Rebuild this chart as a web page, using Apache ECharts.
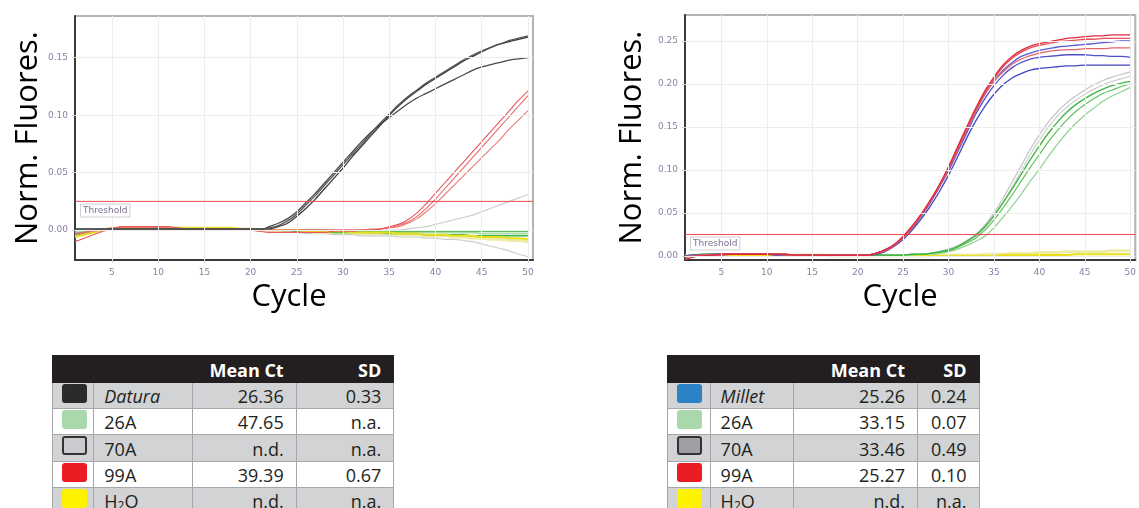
<!DOCTYPE html>
<html><head><meta charset="utf-8">
<script src="https://cdn.jsdelivr.net/npm/echarts@6/dist/echarts.min.js"></script>
<style>
html,body{margin:0;padding:0;background:#fff;width:1139px;height:508px;overflow:hidden;position:relative;font-family:'Open Sans',sans-serif;}
#chart{position:absolute;left:0;top:0;width:1139px;height:340px;}
table.ct{position:absolute;border-collapse:collapse;table-layout:fixed;font-family:'Open Sans',sans-serif;font-size:18px;color:#231f20;}
table.ct td{border:1.5px solid #a5a7aa;padding:0 12px 0 10px;height:26.3px;line-height:24px;white-space:nowrap;overflow:hidden;box-sizing:border-box;vertical-align:bottom;}
table.ct tr.hd td{background:#231f20;color:#fff;font-weight:bold;border-color:#231f20;height:26.7px;}
table.ct tr.g td{background:#d1d3d4;}
table.ct tr.w td{background:#fff;}
table.ct td.num{text-align:right;}
table.ct td.sw{padding:0;vertical-align:top;}
table.ct sub{font-size:12px;line-height:0;vertical-align:-2px;}
.swatch{width:25px;height:19px;border-radius:3px;margin:1px 0 0 9px;box-sizing:border-box;}
</style></head>
<body>
<div id="chart"></div>
<div id="tables"></div>
<script>
// ---------- data ----------
const cycles = [1,2,3,4,5,6,7,8,9,10,11,12,13,14,15,16,17,18,19,20,21,22,23,24,25,26,27,28,29,30,31,32,33,34,35,36,37,38,39,40,41,42,43,44,45,46,47,48,49,50];
const xTicks = [5,10,15,20,25,30,35,40,45,50];
const yTicksLeft = [0,0.05,0.10,0.15];
const yTicksRight = [0,0.05,0.10,0.15,0.20,0.25];
const threshold = 0.025;

// Left panel (Datura assay)
const daturaA = [0.001,0.001,0.001,0.001,0.001,0.001,0.001,0.001,0.001,0.001, 0.001,0.001,0.001,0.001,0.001,0.001,0.001,0.001,0.001,0.001, 0.001,0.002,0.004,0.008,0.014,0.022,0.030,0.039,0.048,0.057, 0.066,0.075,0.084,0.093,0.101,0.109,0.116,0.122,0.128,0.133, 0.138,0.143,0.148,0.152,0.156,0.159,0.162,0.165,0.167,0.169];
const daturaB = [0.001,0.001,0.001,0.001,0.001,0.001,0.001,0.001,0.001,0.001, 0.001,0.001,0.001,0.001,0.001,0.001,0.001,0.001,0.001,0.001, 0.001,0.001,0.003,0.006,0.012,0.019,0.027,0.036,0.045,0.054, 0.064,0.073,0.082,0.091,0.100,0.108,0.115,0.121,0.127,0.132, 0.137,0.142,0.147,0.151,0.155,0.159,0.162,0.164,0.166,0.168];
const daturaC = [0.000,0.000,0.000,0.000,0.000,0.000,0.000,0.000,0.000,0.000, 0.000,0.000,0.000,0.000,0.000,0.000,0.000,0.000,0.000,0.000, 0.000,0.003,0.006,0.010,0.016,0.024,0.032,0.041,0.050,0.059, 0.068,0.077,0.085,0.092,0.098,0.104,0.110,0.115,0.119,0.123, 0.127,0.131,0.135,0.139,0.142,0.144,0.146,0.148,0.149,0.150];
const l99A_1 = [-0.010,-0.007,-0.004,-0.001,0.001,0.003,0.003,0.003,0.003,0.003, 0.003,0.002,0.001,0.000,0.000,0.000,0.000,0.000,0.000,0.000, -0.001,-0.002,-0.002,-0.002,-0.002,-0.002,-0.002,-0.002,-0.001,-0.001, -0.001,0.000,0.000,0.001,0.003,0.005,0.009,0.015,0.023,0.032, 0.041,0.050,0.059,0.068,0.077,0.086,0.095,0.104,0.113,0.121];
const l99A_2 = [-0.004,-0.002,0.000,0.001,0.002,0.002,0.002,0.002,0.002,0.002, 0.002,0.002,0.001,0.001,0.001,0.001,0.001,0.001,0.001,0.001, 0.000,0.000,0.000,0.000,0.000,0.000,0.000,0.000,0.000,0.000, 0.000,0.000,0.001,0.001,0.002,0.004,0.007,0.012,0.019,0.027, 0.036,0.045,0.054,0.063,0.072,0.081,0.090,0.099,0.108,0.117];
const l99A_3 = [-0.003,-0.002,-0.001,0.000,0.001,0.001,0.001,0.001,0.001,0.001, 0.001,0.001,0.001,0.001,0.001,0.001,0.001,0.001,0.001,0.001, 0.000,0.000,0.000,0.000,0.000,0.000,0.000,0.000,0.000,0.000, 0.000,0.000,0.000,0.001,0.002,0.003,0.006,0.010,0.016,0.023, 0.031,0.039,0.047,0.055,0.063,0.071,0.079,0.088,0.096,0.104];
const l70A_1 = [0.000,0.000,0.000,0.000,0.000,0.000,0.000,0.000,0.000,0.000, 0.000,0.000,0.000,0.000,0.000,0.000,0.000,0.000,0.000,0.000, 0.000,0.000,0.000,0.000,0.000,0.000,0.000,0.000,0.000,0.000, 0.000,0.000,0.000,0.000,0.000,0.000,0.001,0.002,0.003,0.005, 0.007,0.009,0.011,0.013,0.016,0.019,0.022,0.025,0.028,0.031];
const l70A_2 = [0.000,0.000,0.000,0.000,0.000,0.000,0.000,0.000,0.000,0.000, 0.000,0.000,0.000,0.000,0.000,0.000,0.000,0.000,0.000,0.000, -0.001,-0.001,-0.002,-0.002,-0.002,-0.003,-0.003,-0.003,-0.004,-0.004, -0.004,-0.005,-0.005,-0.005,-0.005,-0.006,-0.006,-0.006,-0.007,-0.007, -0.008,-0.008,-0.009,-0.010,-0.012,-0.014,-0.016,-0.018,-0.021,-0.023];
const l26A_1 = [-0.004,-0.003,-0.001,0.000,0.001,0.002,0.002,0.002,0.002,0.002, 0.002,0.002,0.001,0.001,0.001,0.001,0.001,0.001,0.001,0.001, 0.000,0.000,0.000,0.000,0.000,0.000,0.000,0.000,-0.001,-0.001, -0.001,-0.001,-0.001,-0.001,-0.001,-0.001,-0.001,-0.001,-0.001,-0.001, -0.001,-0.001,-0.001,-0.001,-0.001,-0.001,-0.001,-0.001,-0.001,-0.001];
const l26A_2 = [-0.003,-0.002,-0.001,0.000,0.001,0.001,0.001,0.001,0.001,0.001, 0.001,0.001,0.001,0.001,0.001,0.001,0.001,0.001,0.001,0.001, 0.000,0.000,0.000,0.000,-0.001,-0.001,-0.001,-0.001,-0.002,-0.002, -0.002,-0.002,-0.002,-0.002,-0.003,-0.003,-0.003,-0.003,-0.004,-0.004, -0.004,-0.004,-0.004,-0.005,-0.005,-0.005,-0.005,-0.005,-0.005,-0.005];
const l26A_3 = [-0.002,-0.001,0.000,0.000,0.001,0.001,0.001,0.001,0.001,0.001, 0.001,0.001,0.001,0.001,0.001,0.001,0.001,0.001,0.001,0.001, 0.000,0.000,0.000,-0.001,-0.001,-0.001,-0.001,-0.001,-0.001,-0.001, -0.001,-0.001,-0.002,-0.002,-0.002,-0.002,-0.002,-0.002,-0.002,-0.002, -0.002,-0.002,-0.002,-0.002,-0.003,-0.003,-0.003,-0.003,-0.003,-0.003];
const lH2O_1 = [-0.006,-0.004,-0.002,0.000,0.001,0.002,0.002,0.002,0.002,0.002, 0.002,0.002,0.002,0.002,0.002,0.002,0.002,0.002,0.001,0.001, 0.001,0.000,0.000,0.000,0.000,-0.001,-0.001,-0.001,-0.001,-0.001, -0.002,-0.002,-0.002,-0.002,-0.002,-0.003,-0.003,-0.003,-0.004,-0.004, -0.004,-0.005,-0.005,-0.005,-0.006,-0.006,-0.006,-0.007,-0.007,-0.008];
const lH2O_2 = [-0.004,-0.003,-0.001,0.000,0.001,0.001,0.001,0.001,0.001,0.001, 0.001,0.001,0.001,0.001,0.001,0.001,0.001,0.001,0.001,0.001, 0.000,0.000,-0.001,-0.001,-0.001,-0.001,-0.002,-0.002,-0.002,-0.002, -0.002,-0.003,-0.003,-0.003,-0.003,-0.004,-0.004,-0.004,-0.005,-0.005, -0.005,-0.006,-0.006,-0.007,-0.007,-0.008,-0.008,-0.009,-0.009,-0.010];

// Right panel (Millet assay)
const r99A_1 = [-0.004,-0.001,0.000,0.001,0.002,0.002,0.002,0.002,0.002,0.002, 0.002,0.002,0.001,0.001,0.001,0.001,0.001,0.001,0.001,0.001, 0.001,0.003,0.007,0.013,0.023,0.035,0.049,0.065,0.083,0.104, 0.127,0.150,0.172,0.192,0.208,0.222,0.232,0.239,0.244,0.247, 0.249,0.251,0.253,0.254,0.255,0.256,0.256,0.257,0.257,0.257];
const r99A_2 = [-0.002,0.000,0.001,0.001,0.002,0.002,0.002,0.002,0.002,0.002, 0.002,0.002,0.001,0.001,0.001,0.001,0.001,0.001,0.001,0.001, 0.001,0.003,0.007,0.013,0.022,0.034,0.048,0.064,0.082,0.102, 0.125,0.148,0.170,0.190,0.206,0.220,0.230,0.237,0.242,0.245, 0.247,0.249,0.250,0.251,0.252,0.252,0.253,0.253,0.253,0.253];
const r99A_3 = [-0.001,0.000,0.001,0.001,0.001,0.002,0.002,0.002,0.002,0.002, 0.002,0.001,0.001,0.001,0.001,0.001,0.001,0.001,0.001,0.001, 0.001,0.003,0.006,0.012,0.021,0.033,0.047,0.063,0.081,0.101, 0.123,0.146,0.168,0.188,0.203,0.214,0.223,0.229,0.233,0.236, 0.238,0.239,0.240,0.240,0.241,0.241,0.241,0.242,0.242,0.242];
const millet1 = [0.000,0.001,0.001,0.002,0.002,0.002,0.002,0.002,0.002,0.002, 0.002,0.001,0.001,0.001,0.001,0.001,0.001,0.001,0.001,0.001, 0.001,0.003,0.007,0.013,0.022,0.034,0.048,0.064,0.082,0.102, 0.124,0.147,0.169,0.188,0.203,0.216,0.225,0.232,0.236,0.239, 0.241,0.243,0.244,0.245,0.246,0.247,0.248,0.249,0.250,0.250];
const millet2 = [0.000,0.001,0.001,0.001,0.002,0.002,0.002,0.002,0.002,0.002, 0.001,0.001,0.001,0.001,0.001,0.001,0.001,0.001,0.001,0.001, 0.001,0.003,0.006,0.012,0.021,0.032,0.046,0.062,0.080,0.099, 0.121,0.143,0.165,0.183,0.198,0.210,0.219,0.225,0.229,0.231, 0.232,0.233,0.234,0.234,0.234,0.233,0.233,0.232,0.232,0.231];
const millet3 = [0.000,0.001,0.001,0.001,0.001,0.002,0.002,0.002,0.002,0.002, 0.001,0.001,0.001,0.001,0.001,0.001,0.001,0.001,0.001,0.001, 0.001,0.002,0.005,0.011,0.019,0.030,0.043,0.058,0.075,0.094, 0.115,0.137,0.157,0.174,0.188,0.199,0.207,0.212,0.216,0.218, 0.219,0.220,0.221,0.221,0.222,0.222,0.222,0.222,0.222,0.222];
const r70A_1 = [0.000,0.001,0.002,0.002,0.002,0.002,0.002,0.002,0.002,0.002, 0.002,0.002,0.001,0.001,0.001,0.001,0.001,0.001,0.001,0.001, 0.001,0.001,0.001,0.001,0.001,0.002,0.002,0.003,0.005,0.008, 0.012,0.018,0.025,0.036,0.050,0.067,0.086,0.105,0.124,0.141, 0.156,0.168,0.178,0.186,0.193,0.199,0.204,0.208,0.211,0.214];
const r70A_2 = [0.000,0.001,0.002,0.002,0.002,0.002,0.002,0.002,0.002,0.002, 0.002,0.002,0.001,0.001,0.001,0.001,0.001,0.001,0.001,0.001, 0.001,0.001,0.001,0.001,0.001,0.002,0.002,0.003,0.004,0.007, 0.011,0.016,0.023,0.033,0.046,0.062,0.080,0.099,0.118,0.135, 0.150,0.163,0.173,0.181,0.188,0.194,0.199,0.203,0.206,0.209];
const r26A_1 = [-0.001,0.001,0.002,0.002,0.002,0.002,0.002,0.002,0.002,0.002, 0.002,0.002,0.001,0.001,0.001,0.001,0.001,0.001,0.001,0.001, 0.001,0.001,0.001,0.001,0.001,0.002,0.002,0.003,0.005,0.007, 0.011,0.017,0.024,0.034,0.047,0.062,0.078,0.095,0.112,0.128, 0.143,0.156,0.167,0.176,0.183,0.189,0.194,0.198,0.201,0.203];
const r26A_2 = [-0.001,0.001,0.002,0.002,0.002,0.002,0.002,0.002,0.002,0.002, 0.002,0.002,0.001,0.001,0.001,0.001,0.001,0.001,0.001,0.001, 0.001,0.001,0.001,0.001,0.001,0.002,0.002,0.003,0.004,0.006, 0.010,0.015,0.021,0.030,0.042,0.056,0.071,0.087,0.103,0.118, 0.133,0.146,0.158,0.168,0.176,0.183,0.189,0.193,0.197,0.200];
const r26A_3 = [0.000,0.001,0.002,0.002,0.002,0.002,0.002,0.002,0.002,0.002, 0.002,0.002,0.001,0.001,0.001,0.001,0.001,0.001,0.001,0.001, 0.001,0.001,0.001,0.001,0.001,0.001,0.002,0.002,0.003,0.005, 0.008,0.012,0.017,0.023,0.033,0.045,0.058,0.072,0.087,0.101, 0.116,0.130,0.143,0.154,0.164,0.172,0.180,0.186,0.191,0.196];
const rH2O_1 = [0.000,0.001,0.001,0.001,0.001,0.001,0.001,0.001,0.001,0.001, 0.001,0.001,0.000,0.000,0.000,0.000,0.000,0.000,0.000,0.000, 0.000,0.000,0.000,0.000,0.000,0.000,0.000,0.000,0.000,0.000, 0.000,0.000,0.000,0.000,0.000,0.001,0.001,0.001,0.001,0.001, 0.001,0.001,0.001,0.002,0.002,0.002,0.002,0.002,0.002,0.002];
const rH2O_2 = [0.000,0.001,0.001,0.001,0.001,0.001,0.001,0.001,0.001,0.001, 0.001,0.001,0.001,0.001,0.001,0.001,0.000,0.000,0.000,0.000, 0.000,0.000,0.000,0.000,0.000,0.000,0.000,0.000,0.001,0.001, 0.001,0.001,0.001,0.002,0.002,0.002,0.003,0.003,0.003,0.004, 0.004,0.004,0.005,0.005,0.005,0.005,0.005,0.006,0.006,0.006];

// Table contents
const tableHeader = ['', '', 'Mean Ct', 'SD'];
const leftNames = ['Datura','26A','70A','99A','H<sub>2</sub>O'];
const leftMeanCt = ['26.36','47.65','n.d.','39.39','n.d.'];
const leftSD = ['0.33','n.a.','n.a.','0.67','n.a.'];
const leftSwatch = ['#2b2b2b','#a8d8ab','#c9cbcf','#ec1c24','#fff200'];
const rightNames = ['Millet','26A','70A','99A','H<sub>2</sub>O'];
const rightMeanCt = ['25.26','33.15','33.46','25.27','n.d.'];
const rightSD = ['0.24','0.07','0.49','0.10','n.a.'];
const rightSwatch = ['#2b83c6','#a8d8ab','#9d9fa2','#ec1c24','#fff200'];

// ---------- chart ----------
const chart = echarts.init(document.getElementById('chart'), null, {renderer:'canvas'});
const lblColor = '#8a7fa6';
const thrColor = '#ee4a50';

function line(name, vals, color, width, gi, z){
  return {type:'line', name, xAxisIndex:gi, yAxisIndex:gi, data: vals.map((v,i)=>[cycles[i], v]),
    showSymbol:false, smooth:0.3, color, lineStyle:{color, width}, z: z||3, silent:true, animation:false};
}
function guides(gi, yTicks){
  return {type:'line', xAxisIndex:gi, yAxisIndex:gi, data:[], silent:true, z:1, animation:false,
    markLine:{silent:true, symbol:'none', animation:false, label:{show:false},
      lineStyle:{color:'#ededed', type:'solid', width:1},
      data: xTicks.map(v=>({xAxis:v})).concat(yTicks.map(v=>({yAxis:v})))}};
}
function thr(gi){
  return {type:'line', name:'Threshold', xAxisIndex:gi, yAxisIndex:gi, data:[[1, threshold],[50.55, threshold]],
    showSymbol:false, smooth:false, color:thrColor, itemStyle:{color:thrColor}, lineStyle:{color:thrColor, width:1, opacity:1},
    silent:true, z:5, animation:false,
    markPoint:{silent:true, animation:false, symbol:'rect', symbolSize:0,
      label:{show:true, position:'right', offset:[1, 9], formatter:'Threshold', color:'#7d6e94', fontSize:9,
        fontFamily:'DejaVu Sans', backgroundColor:'#fff', borderColor:'#cfcfcf', borderWidth:1, padding:[2,2,1,2]},
      data:[{coord:[1, threshold]}]}};
}
function xAx(gi){
  return {type:'value', gridIndex:gi, min:1, max:50.55,
    axisLine:{show:true, onZero:false, lineStyle:{color:'#3a3a3a', width:2}},
    axisTick:{show:true, customValues:xTicks, length:3, lineStyle:{color:'#d0d0d0'}},
    axisLabel:{customValues:xTicks, color:lblColor, fontSize:9, margin:8, fontFamily:'DejaVu Sans'},
    splitLine:{show:false},
    name:'Cycle', nameLocation:'middle', nameGap:10,
    nameTextStyle:{fontSize:31, fontFamily:'Open Sans', color:'#000', padding:[0, gi===0?30:20, 0, 0]}};
}
function yAx(gi, min, max, ticks, gap){
  return {type:'value', gridIndex:gi, min, max,
    axisLine:{show:true, onZero:false, lineStyle:{color:'#3a3a3a', width:2}},
    axisTick:{show:true, customValues:ticks, length:3, lineStyle:{color:'#d0d0d0'}},
    axisLabel:{customValues:ticks, color:lblColor, fontSize:9, margin:7, fontFamily:'DejaVu Sans',
      formatter:v=>v.toFixed(2)},
    splitLine:{show:false},
    name:'Norm. Fluores.', nameLocation:'middle', nameGap:gap, nameRotate:90,
    nameTextStyle:{fontSize:31, fontFamily:'Open Sans', color:'#000'}};
}

const option = {
  animation:false,
  backgroundColor:'#fff',
  grid:[
    {left:75, top:16, width:458, height:244, show:true, borderColor:'#b3b3b3', borderWidth:2, backgroundColor:'#fff'},
    {left:685, top:15, width:458, height:245, show:true, borderColor:'#b3b3b3', borderWidth:2, backgroundColor:'#fff'}
  ],
  xAxis:[xAx(0), xAx(1)],
  yAxis:[yAx(0, -0.026, 0.1863, yTicksLeft, 30), yAx(1, -0.0047, 0.2802, yTicksRight, 37)],
  series:[
    guides(0, yTicksLeft),
    line('70A', l70A_2, '#cdcdcd', 1.2, 0),
    line('70A', l70A_1, '#cdcdcd', 1.2, 0),
    line('H2O', lH2O_2, '#eeeba6', 3, 0),
    line('26A', l26A_3, '#a6dca6', 2, 0),
    line('26A', l26A_2, '#3cb44a', 1.5, 0),
    line('26A', l26A_1, '#57c05f', 1.5, 0),
    line('H2O', lH2O_1, '#e8e01e', 2, 0),
    line('99A', l99A_3, '#e87a7c', 1.1, 0, 4),
    line('99A', l99A_2, '#e76a6d', 1.1, 0, 4),
    line('99A', l99A_1, '#e5585c', 1.1, 0, 4),
    line('Datura', daturaC, '#4a4a4a', 1.3, 0, 4),
    line('Datura', daturaB, '#3a3a3a', 1.3, 0, 4),
    line('Datura', daturaA, '#555555', 1.3, 0, 4),
    thr(0),

    guides(1, yTicksRight),
    line('H2O', rH2O_2, '#eeeba6', 3, 1),
    line('H2O', rH2O_1, '#e8e01e', 2, 1),
    line('70A', r70A_2, '#cfcfcf', 1.2, 1),
    line('70A', r70A_1, '#c4c4c4', 1.2, 1),
    line('26A', r26A_3, '#8fd48f', 1.2, 1),
    line('26A', r26A_2, '#5cc35c', 1.2, 1),
    line('26A', r26A_1, '#3db53d', 1.3, 1),
    line('Millet', millet3, '#4646c0', 1.3, 1, 4),
    line('Millet', millet2, '#5050c8', 1.3, 1, 4),
    line('Millet', millet1, '#5a5ad0', 1.3, 1, 4),
    line('99A', r99A_3, '#e6656c', 1.3, 1, 4),
    line('99A', r99A_2, '#e4505a', 1.3, 1, 4),
    line('99A', r99A_1, '#e02a3a', 1.3, 1, 4),
    thr(1)
  ]
};
chart.setOption(option);

// ---------- tables ----------
function buildTable(left, widths, names, means, sds, swatches, italicFirst){
  let h = `<table class="ct" style="left:${left}px;top:355px;width:${widths.reduce((a,b)=>a+b,0)}px"><colgroup>`;
  widths.forEach(w=>{h += `<col style="width:${w}px">`;});
  h += '</colgroup><tr class="hd">';
  tableHeader.forEach((t,i)=>{h += `<td class="${i>=2?'num':''}">${t}</td>`;});
  h += '</tr>';
  names.forEach((n,i)=>{
    const cls = i%2===0 ? 'g' : 'w';
    const border = (i===2) ? 'border:2px solid #333;' : '';
    h += `<tr class="${cls}"><td class="sw"><div class="swatch" style="background:${swatches[i]};${border}"></div></td>`;
    h += `<td style="${i===0&&italicFirst?'font-style:italic;':''}">${n}</td>`;
    h += `<td class="num">${means[i]}</td><td class="num">${sds[i]}</td></tr>`;
  });
  h += '</table>';
  return h;
}
document.getElementById('tables').innerHTML =
  buildTable(52, [41.3,98.4,104,97.6], leftNames, leftMeanCt, leftSD, leftSwatch, true) +
  buildTable(667, [42.6,83.4,124,61.6], rightNames, rightMeanCt, rightSD, rightSwatch, true);
</script>
</body></html>
